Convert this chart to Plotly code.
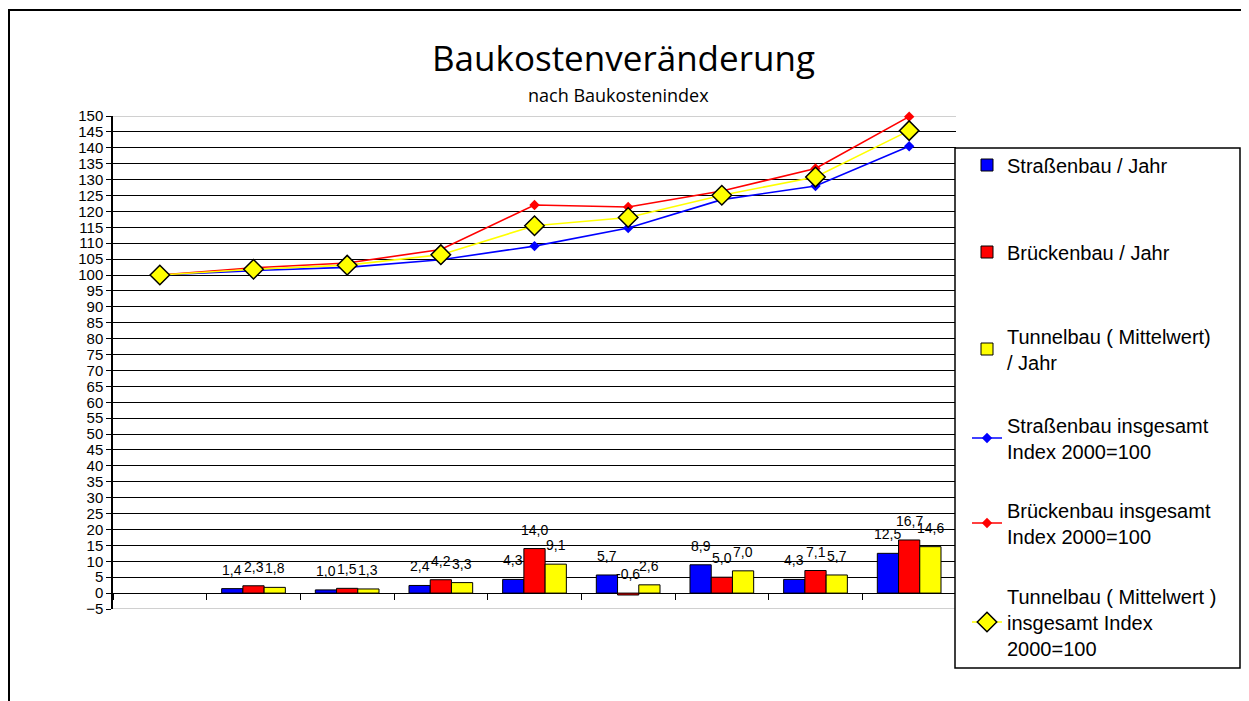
import plotly.graph_objects as go

# ---------------- data ----------------
years = ["2000", "2001", "2002", "2003", "2004", "2005", "2006", "2007", "2008"]
bar_years = ["2001", "2002", "2003", "2004", "2005", "2006", "2007", "2008"]

strassen_jahr = [1.4, 1.0, 2.4, 4.3, 5.7, 8.9, 4.3, 12.5]
bruecken_jahr = [2.3, 1.5, 4.2, 14.0, -0.6, 5.0, 7.1, 16.7]
tunnel_jahr = [1.8, 1.3, 3.3, 9.1, 2.6, 7.0, 5.7, 14.6]

strassen_index = [100, 101.4, 102.4, 104.8, 109.1, 114.8, 123.7, 128.0, 140.5]
bruecken_index = [100, 102.3, 103.8, 108.0, 122.0, 121.4, 126.4, 133.5, 149.8]
tunnel_index = [100, 101.8, 103.1, 106.4, 115.5, 118.1, 125.1, 130.8, 145.4]

names = [
    "Straßenbau / Jahr",
    "Brückenbau / Jahr",
    "Tunnelbau ( Mittelwert)<br>/ Jahr",
    "Straßenbau insgesamt<br>Index 2000=100",
    "Brückenbau insgesamt<br>Index 2000=100",
    "Tunnelbau ( Mittelwert )<br>insgesamt Index<br>2000=100",
]

title_text = "Baukostenveränderung"
subtitle_text = "nach Baukostenindex"

# ---------------- layout helpers (screen pixels -> paper) ----------------
OFF = 8  # page body margin
W, H = 1249 - OFF, 701 - OFF
L, R, T, B = 113, 956, 116, 609  # plot area in screen pixels


def px(xp):
    return (xp - L) / (R - L)


def py(yp):
    return (B - yp) / (B - T)


BLUE, RED, YELLOW = "#0000FF", "#FF0000", "#FFFF00"
FONT = "Liberation Sans, Arial, sans-serif"

fig = go.Figure()

bar_series = [strassen_jahr, bruecken_jahr, tunnel_jahr]
bar_colors = [BLUE, RED, YELLOW]
for i, (vals, col) in enumerate(zip(bar_series, bar_colors)):
    fig.add_trace(go.Bar(
        x=bar_years, y=vals, name=names[i],
        marker=dict(color=col, line=dict(color="black", width=1)),
        legend="legend" if i == 0 else f"legend{i + 1}",
        hoverinfo="x+y",
    ))

line_series = [strassen_index, bruecken_index, tunnel_index]
for k, (vals, col) in enumerate(zip(line_series, bar_colors)):
    i = k + 3
    if k < 2:
        marker = dict(symbol="diamond", size=8, color=col)
    else:
        marker = dict(symbol="diamond", size=15, color=col,
                      line=dict(color="black", width=1.5))
    fig.add_trace(go.Scatter(
        x=years, y=vals, name=names[i], mode="lines+markers",
        line=dict(color=col, width=1.6), marker=marker,
        legend=f"legend{i + 1}", cliponaxis=False,
    ))

# value labels above bars (x given as category index on the category axis)
shifts = [-21.2, 0, 21.2]
annotations = []
for vals, sh in zip(bar_series, shifts):
    for yr, v in zip(bar_years, vals):
        annotations.append(dict(
            x=years.index(yr), y=max(v, 0), xref="x", yref="y",
            text=f"{v:.1f}".replace(".", ","), showarrow=False,
            xshift=sh, yshift=19, yanchor="middle",
            font=dict(family=FONT, size=14, color="black"),
        ))

annotations.append(dict(
    x=px(623), y=py(58), xref="paper", yref="paper", text=title_text,
    showarrow=False, xanchor="center", yanchor="middle",
    font=dict(family="Open Sans, sans-serif", size=35, color="black"),
))
annotations.append(dict(
    x=px(618), y=py(95), xref="paper", yref="paper", text=subtitle_text,
    showarrow=False, xanchor="center", yanchor="middle",
    font=dict(family="Open Sans, sans-serif", size=18, color="black"),
))

shapes = [
    # outer chart frame
    dict(type="rect", xref="paper", yref="paper", x0=px(9), x1=px(1244),
         y0=py(704), y1=py(10), line=dict(color="black", width=2), layer="above"),
    # legend frame
    dict(type="rect", xref="paper", yref="paper", x0=px(955), x1=px(1240),
         y0=py(668), y1=py(148), line=dict(color="black", width=1.5),
         fillcolor="white", layer="above"),
    # plot area border top/bottom (grey)
    dict(type="line", xref="paper", yref="y", x0=0, x1=1, y0=150, y1=150,
         line=dict(color="#c0c0c0", width=1.5), layer="between"),
    dict(type="line", xref="paper", yref="y", x0=0, x1=1, y0=-5, y1=-5,
         line=dict(color="#c0c0c0", width=1.5), layer="between"),
]

legend_centers = [165, 252, 349, 438, 523, 622]
legend_common = dict(
    bgcolor="rgba(0,0,0,0)", borderwidth=0, xanchor="left", yanchor="middle",
    font=dict(family=FONT, size=20, color="black"), itemsizing="trace",
)
legend_layout = {}
for i, c in enumerate(legend_centers):
    key = "legend" if i == 0 else f"legend{i + 1}"
    legend_layout[key] = dict(x=px(967), y=py(c), **legend_common)

fig.update_layout(
    width=W, height=H,
    margin=dict(l=L - OFF, r=W - (R - OFF), t=T - OFF, b=H - (B - OFF), pad=0),
    paper_bgcolor="white", plot_bgcolor="white",
    barmode="group", bargap=0.32, bargroupgap=0,
    showlegend=True,
    xaxis=dict(
        type="category", categoryorder="array", categoryarray=years,
        range=[-0.5, 8.5], showticklabels=False, showgrid=False,
        tickson="boundaries", ticks="outside", ticklen=6, tickcolor="black",
        tickwidth=1, showline=False, zeroline=False,
        anchor="free", position=5 / 155,
    ),
    yaxis=dict(
        range=[-5, 150], tick0=0, dtick=5, ticks="outside", ticklen=5,
        tickcolor="black", showline=True, linecolor="black", linewidth=1.5,
        showgrid=True, gridcolor="black", gridwidth=1.2,
        zeroline=True, zerolinecolor="black", zerolinewidth=1.2,
        tickfont=dict(family=FONT, size=15, color="black"),
    ),
    annotations=annotations,
    shapes=shapes,
    **legend_layout,
)

fig.write_html("out.html")
